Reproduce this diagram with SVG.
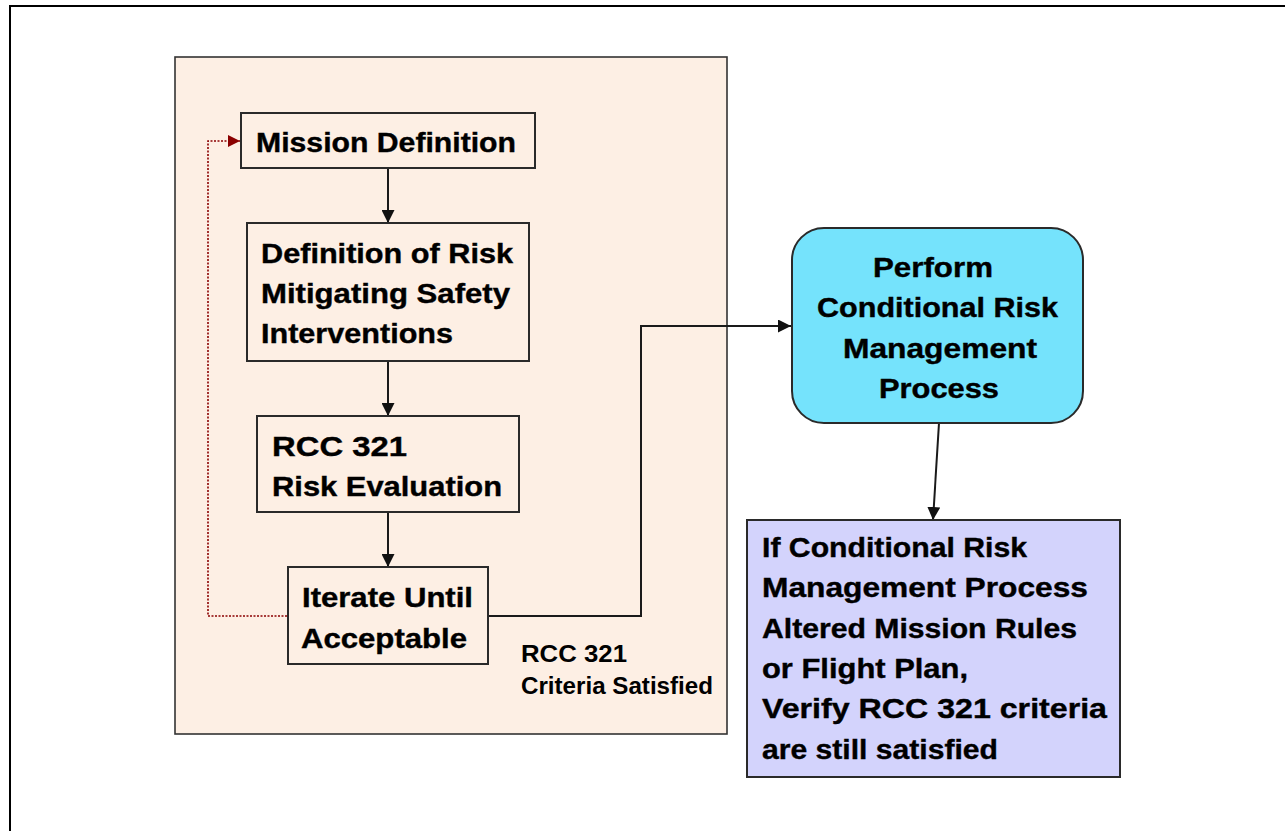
<svg xmlns="http://www.w3.org/2000/svg" width="1285" height="831" viewBox="0 0 1285 831">
<defs>
<style>
.box{stroke:#2a2a2a;stroke-width:2}
.t{font-family:"Liberation Sans",Arial,sans-serif;font-weight:bold;font-size:28px;fill:#000;stroke:#000;stroke-width:0.4}
.s{font-family:"Liberation Sans",Arial,sans-serif;font-weight:bold;font-size:23px;fill:#000}
.c{fill:none;stroke:#1a1a1a;stroke-width:2}
.d{fill:none;stroke:#8b0000;stroke-width:1.6;stroke-dasharray:2 1.5}
</style>
<marker id="ah" viewBox="0 0 10 10" refX="10" refY="5" markerWidth="13" markerHeight="13" markerUnits="userSpaceOnUse" orient="auto"><path d="M0,0 L10,5 L0,10 z" fill="#111"/></marker>
<marker id="ahr" viewBox="0 0 10 10" refX="10" refY="5" markerWidth="12" markerHeight="12" markerUnits="userSpaceOnUse" orient="auto"><path d="M0,0 L10,5 L0,10 z" fill="#8b0000"/></marker>
</defs>
<rect width="1285" height="831" fill="#fff"/>
<path d="M10,831 V6 H1285" fill="none" stroke="#000" stroke-width="2"/>
<g id="container">
<rect x="175" y="57" width="552" height="677" fill="#fdefe4" stroke="#333" stroke-width="1.6"/>
<text class="s"><tspan x="521" y="662" textLength="106" lengthAdjust="spacingAndGlyphs">RCC 321</tspan><tspan x="521" y="694" textLength="192" lengthAdjust="spacingAndGlyphs">Criteria Satisfied</tspan></text>
</g>
<g id="connectors">
<line class="c" x1="388" y1="168" x2="388" y2="223" marker-end="url(#ah)"/>
<line class="c" x1="388" y1="361" x2="388" y2="416" marker-end="url(#ah)"/>
<line class="c" x1="388" y1="512" x2="388" y2="567" marker-end="url(#ah)"/>
<path class="c" d="M488,616 H641 V326 H791" marker-end="url(#ah)"/>
<line class="c" x1="939" y1="423" x2="933" y2="520" marker-end="url(#ah)"/>
<path class="d" d="M287,616 H208 V141 H240" marker-end="url(#ahr)"/>
</g>
<g id="mission">
<rect class="box" x="241" y="113" width="294" height="55" fill="#fdefe4"/>
<text class="t" x="256" y="152" textLength="260" lengthAdjust="spacingAndGlyphs">Mission Definition</text>
</g>
<g id="definition">
<rect class="box" x="247" y="223" width="282" height="138" fill="#fdefe4"/>
<text class="t"><tspan x="261" y="263" textLength="252" lengthAdjust="spacingAndGlyphs">Definition of Risk</tspan><tspan x="261" y="303" textLength="249" lengthAdjust="spacingAndGlyphs">Mitigating Safety</tspan><tspan x="261" y="343" textLength="192" lengthAdjust="spacingAndGlyphs">Interventions</tspan></text>
</g>
<g id="evaluation">
<rect class="box" x="257" y="416" width="262" height="96" fill="#fdefe4"/>
<text class="t"><tspan x="272" y="456" textLength="135" lengthAdjust="spacingAndGlyphs">RCC 321</tspan><tspan x="272" y="496" textLength="230" lengthAdjust="spacingAndGlyphs">Risk Evaluation</tspan></text>
</g>
<g id="iterate">
<rect class="box" x="288" y="567" width="200" height="97" fill="#fdefe4"/>
<text class="t"><tspan x="302" y="607" textLength="171" lengthAdjust="spacingAndGlyphs">Iterate Until</tspan><tspan x="301" y="648" textLength="166" lengthAdjust="spacingAndGlyphs">Acceptable</tspan></text>
</g>
<g id="perform">
<rect class="box" x="792" y="228" width="291" height="195" rx="32" ry="32" fill="#75e3fc"/>
<text class="t"><tspan x="873" y="277" textLength="120" lengthAdjust="spacingAndGlyphs">Perform</tspan><tspan x="817" y="317" textLength="241" lengthAdjust="spacingAndGlyphs">Conditional Risk</tspan><tspan x="843" y="358" textLength="194" lengthAdjust="spacingAndGlyphs">Management</tspan><tspan x="879" y="398" textLength="120" lengthAdjust="spacingAndGlyphs">Process</tspan></text>
</g>
<g id="verify">
<rect class="box" x="747" y="520" width="373" height="257" fill="#d3d3fc"/>
<text class="t"><tspan x="762" y="557" textLength="265" lengthAdjust="spacingAndGlyphs">If Conditional Risk</tspan><tspan x="762" y="597" textLength="326" lengthAdjust="spacingAndGlyphs">Management Process</tspan><tspan x="762" y="638" textLength="315" lengthAdjust="spacingAndGlyphs">Altered Mission Rules</tspan><tspan x="762" y="678" textLength="206" lengthAdjust="spacingAndGlyphs">or Flight Plan,</tspan><tspan x="762" y="718" textLength="345" lengthAdjust="spacingAndGlyphs">Verify RCC 321 criteria</tspan><tspan x="762" y="759" textLength="236" lengthAdjust="spacingAndGlyphs">are still satisfied</tspan></text>
</g>
</svg>
